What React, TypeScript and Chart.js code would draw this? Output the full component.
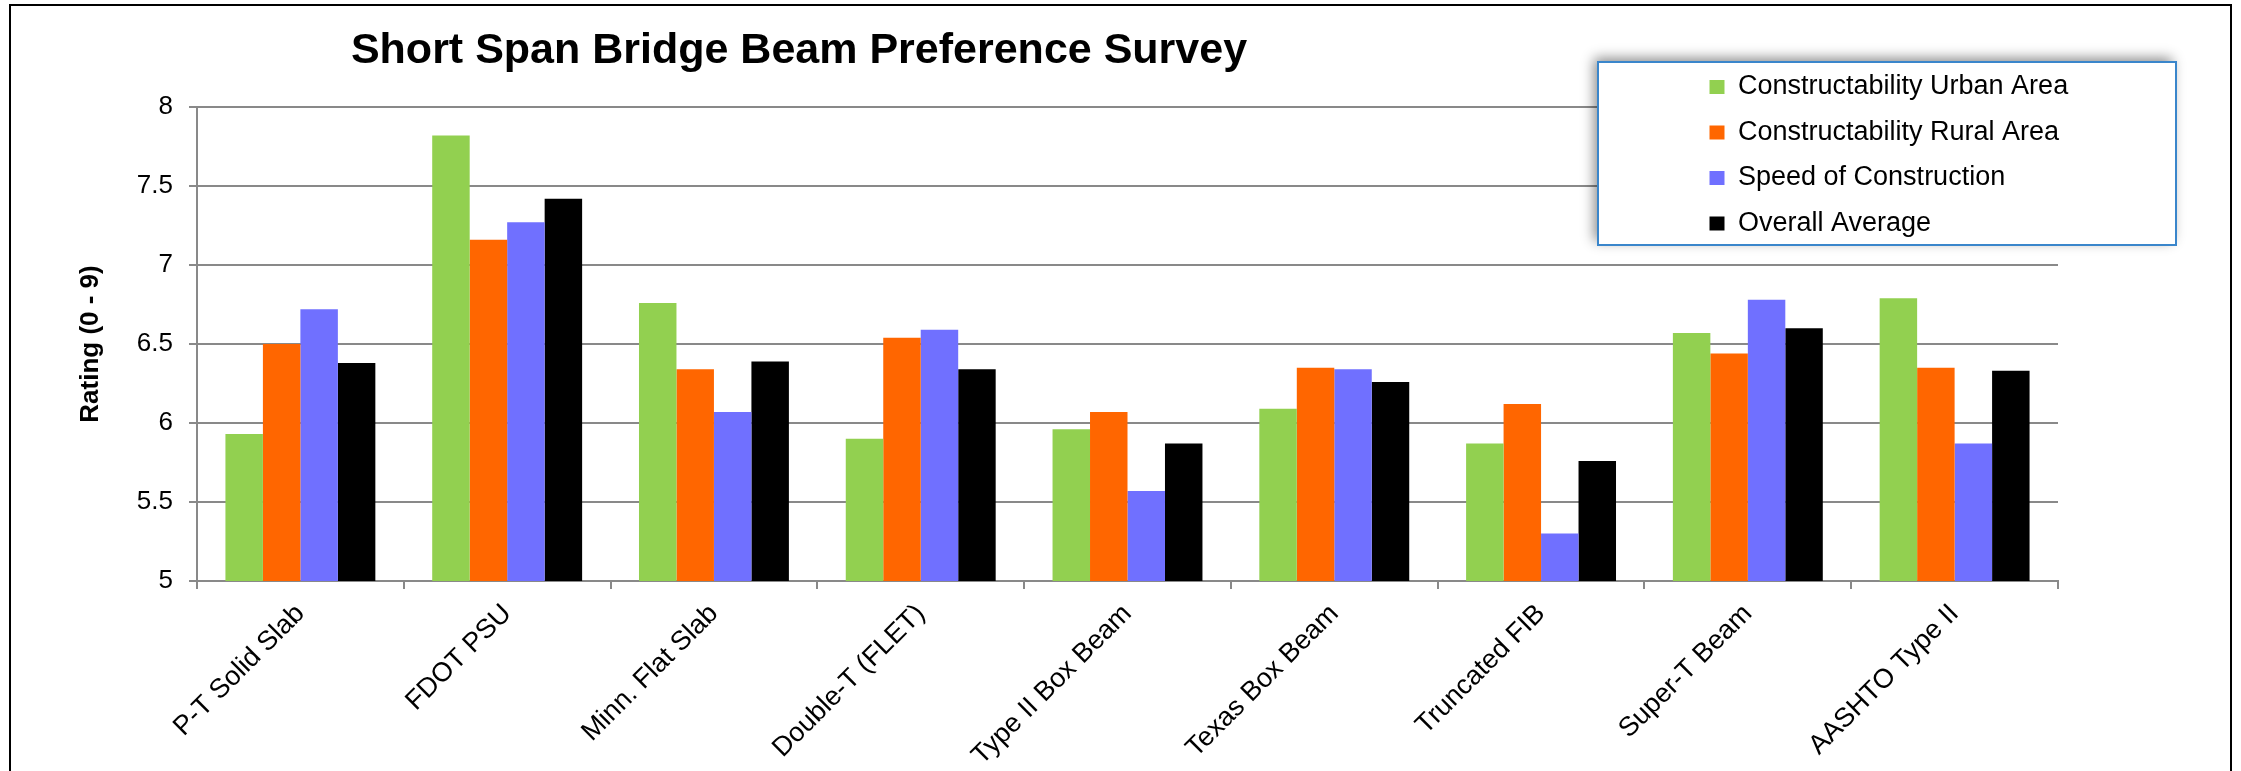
import React, { useEffect, useRef } from 'react';
import { Chart, registerables } from 'chart.js';

Chart.register(...registerables);

// ---- data ----
const categories = [
  'P-T Solid Slab',
  'FDOT PSU',
  'Minn. Flat Slab',
  'Double-T (FLET)',
  'Type II Box Beam',
  'Texas Box Beam',
  'Truncated FIB',
  'Super-T Beam',
  'AASHTO Type II',
];
const seriesNames = [
  'Constructability Urban Area',
  'Constructability Rural Area',
  'Speed of Construction',
  'Overall Average',
];
const urbanValues = [5.93, 7.82, 6.76, 5.9, 5.96, 6.09, 5.87, 6.57, 6.79];
const ruralValues = [6.5, 7.16, 6.34, 6.54, 6.07, 6.35, 6.12, 6.44, 6.35];
const speedValues = [6.72, 7.27, 6.07, 6.59, 5.57, 6.34, 5.3, 6.78, 5.87];
const overallValues = [6.38, 7.42, 6.39, 6.34, 5.87, 6.26, 5.76, 6.6, 6.33];
const yMin = 5;
const yMax = 8;
const yStep = 0.5;
const titleText = 'Short Span Bridge Beam Preference Survey';
const yAxisTitle = 'Rating (0 - 9)';

// ---- styles ----
const FONT = "'Liberation Sans', Arial, Helvetica, sans-serif";
const GRID = '#898989';
const COLORS = ['#92D050', '#FF6600', '#7070FF', '#000000'];

const decorPlugin = {
  id: 'decor',
  beforeDraw(chart: any) {
    const ctx = chart.ctx;
    ctx.save();
    ctx.fillStyle = '#ffffff';
    ctx.fillRect(0, 0, chart.width, chart.height);
    ctx.strokeStyle = '#000000';
    ctx.lineWidth = 2;
    ctx.strokeRect(10, 5, 2221, 820);
    ctx.restore();
  },
  afterLayout(chart: any) {
    const t = chart.titleBlock;
    if (t) {
      t.left = 799 - 500;
      t.right = 799 + 500;
    }
    const lg = chart.legend;
    if (lg) {
      lg.left = 1691;
      lg.top = 55;
      lg.right = 1691 + 600;
      lg.bottom = 55 + 260;
    }
  },
  beforeDatasetsDraw(chart: any) {
    const ctx = chart.ctx;
    ctx.save();
    ctx.shadowColor = 'rgba(0,0,0,0.45)';
    ctx.shadowBlur = 12;
    ctx.shadowOffsetX = -4;
    ctx.shadowOffsetY = -4;
    ctx.fillStyle = '#ffffff';
    ctx.fillRect(1598, 62, 578, 183);
    ctx.restore();
    ctx.save();
    ctx.strokeStyle = '#3A86CB';
    ctx.lineWidth = 2;
    ctx.strokeRect(1598, 62, 578, 183);
    ctx.restore();
    if (chart.legend) chart.legend.draw();
  },
};

export default function App() {
  const ref = useRef<HTMLCanvasElement | null>(null);

  useEffect(() => {
    if (!ref.current) return;
    Chart.defaults.font.family = FONT;
    const seriesValues = [urbanValues, ruralValues, speedValues, overallValues];
    const chart = new Chart(ref.current, {
      type: 'bar',
      data: {
        labels: categories,
        datasets: seriesNames.map((name, i) => ({
          label: name,
          data: seriesValues[i],
          backgroundColor: COLORS[i],
          borderWidth: 0,
          barPercentage: 1,
          categoryPercentage: 0.725,
        })),
      },
      options: {
        responsive: false,
        animation: false,
        devicePixelRatio: 1,
        layout: { padding: { left: 75, right: 183, top: 0, bottom: 0 } },
        plugins: {
          title: {
            display: true,
            text: titleText,
            color: '#000000',
            font: { size: 43, weight: 'bold', family: FONT },
            padding: { top: 25, bottom: 30.4 },
          },
          legend: {
            display: true,
            position: 'chartArea',
            align: 'start',
            labels: {
              color: '#000000',
              font: { size: 27, family: FONT },
              boxWidth: 15,
              boxHeight: 14,
              padding: 18.5,
            },
          },
          tooltip: { enabled: false },
        },
        scales: {
          x: {
            grid: {
              display: true,
              drawOnChartArea: false,
              drawTicks: true,
              tickLength: 8,
              color: GRID,
              lineWidth: 2,
              offset: true,
            },
            border: { display: true, color: GRID, width: 2 },
            ticks: {
              color: '#000000',
              font: { size: 27, family: FONT },
              autoSkip: false,
              minRotation: 45,
              maxRotation: 45,
              padding: 9,
            },
            afterFit(scale: any) {
              scale.height = 190;
            },
          },
          y: {
            min: yMin,
            max: yMax,
            grid: { color: GRID, lineWidth: 2, tickLength: 8, drawTicks: true },
            border: { display: true, color: GRID, width: 2 },
            ticks: {
              stepSize: yStep,
              color: '#000000',
              font: { size: 26, family: FONT },
              padding: 16,
              callback: (v: any) => `${v}`,
            },
            title: {
              display: true,
              text: yAxisTitle,
              color: '#000000',
              font: { size: 26, weight: 'bold', family: FONT },
              padding: { top: 0, bottom: 0 },
            },
            afterFit(scale: any) {
              scale.width = 122;
            },
          },
        },
      },
      plugins: [decorPlugin],
    } as any);
    return () => chart.destroy();
  }, []);

  return (
    <div style={{ position: 'absolute', left: 0, top: 0, width: 2241, height: 771, overflow: 'hidden' }}>
      <canvas ref={ref} width={2241} height={771} style={{ width: 2241, height: 771, display: 'block' }} />
    </div>
  );
}
